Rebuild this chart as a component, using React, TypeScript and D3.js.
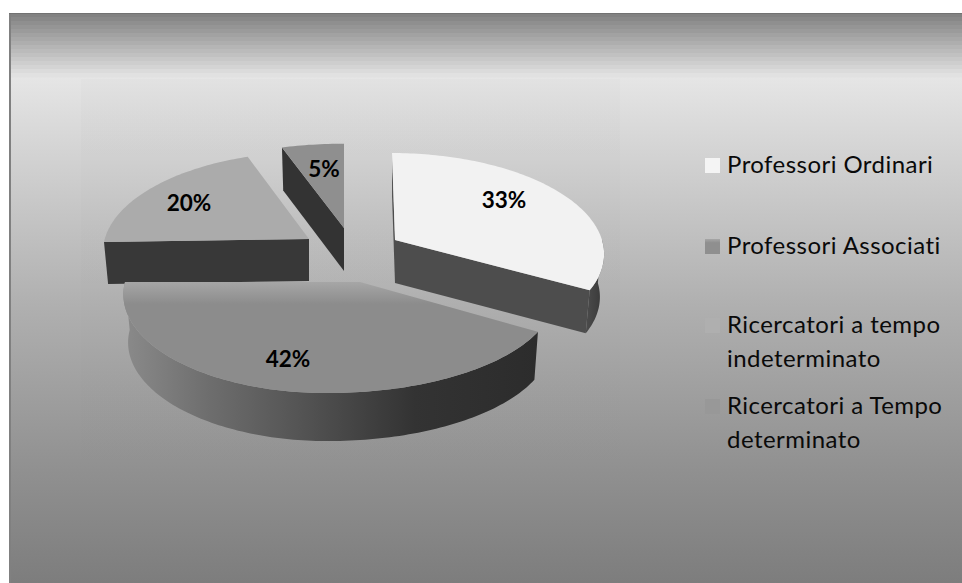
import React from "react";
import * as d3 from "d3";

// Staff composition shares, in clockwise order from twelve o'clock.
const categories = [
  "Professori Ordinari",
  "Professori Associati",
  "Ricercatori a tempo indeterminato",
  "Ricercatori a Tempo determinato",
];
const shares = [33, 42, 20, 5];

const topFills = ["#f2f2f2", "url(#faceAssociati)", "#ababab", "#8f8f8f"];
const cutFills = ["#4d4d4d", "#2e2e2e", "#383838", "#333333"];
const rimFills = ["url(#rimOrdinari)", "url(#rimAssociati)", "#383838", "#333333"];

const legendLines = [
  ["Professori Ordinari"],
  ["Professori Associati"],
  ["Ricercatori a tempo", "indeterminato"],
  ["Ricercatori a Tempo", "determinato"],
];
const swatchFills = ["#f4f4f4", "url(#swatchAssociati)", "#afafaf", "#989898"];
const legendBaselines = [173, 254, 333, 414];

const W = 962;
const H = 583;
const FONT = "Lato, Carlito, Calibri, sans-serif";

// Foreshortening: the front of the disc is nearer the viewer than the back.
const PERSPECTIVE = 0.127;
const WALL_TAPER = 0.98;

// Each exploded slice has its own pivot, disc shift and projected radii.
type Frame = {
  ax: number; ay: number; shift: number; rxL: number; rxR: number; ry: number;
  skew: number; roll: number; depth: number; lx: number; ly: number;
};
const frames: Frame[] = [
  { ax: 395, ay: 240, shift: 0, rxL: 207, rxR: 207, ry: 98, skew: 3, roll: 0, depth: 43, lx: 109, ly: -40 },
  { ax: 360, ay: 282, shift: -33, rxL: 202, rxR: 226, ry: 97, skew: 0, roll: 0, depth: 48, lx: -72, ly: 77 },
  { ax: 309, ay: 239, shift: 0, rxL: 205, rxR: 205, ry: 98, skew: 5, roll: -3, depth: 42, lx: -120, ly: -36 },
  { ax: 344, ay: 228, shift: 0, rxL: 225, rxR: 225, ry: 95, skew: 0, roll: 0, depth: 43, lx: -20, ly: -59 },
];

type Pt = [number, number];

const project = (f: Frame, theta: number): Pt => {
  const X = Math.sin(theta);
  const Y = -Math.cos(theta);
  const s = 1 / (1 - PERSPECTIVE * Y);
  return [
    f.ax + f.shift + (X < 0 ? f.rxL : f.rxR) * X * s + f.skew * Y,
    f.ay + f.ry * Y * s + f.roll * X,
  ];
};
const lowered = (f: Frame, p: Pt): Pt => [f.ax + (p[0] - f.ax) * WALL_TAPER, p[1] + f.depth];

const sweep = (a: number, b: number) => {
  const n = Math.max(2, Math.ceil((b - a) / 0.02));
  return d3.range(n + 1).map((i) => a + ((b - a) * i) / n);
};
const polygon = d3.line().curve(d3.curveLinearClosed);

// A radial cut shows only when the extrusion falls on the far side of it from the top face.
const cutShows = (apex: Pt, edge: Pt, inner: Pt) => {
  const ex = edge[0] - apex[0];
  const ey = edge[1] - apex[1];
  const towardInner = ex * (inner[1] - apex[1]) - ey * (inner[0] - apex[0]);
  return ex * towardInner < 0;
};

const pieAngles = d3.pie<number>().sort(null).value((d) => d)(shares);

// Stepped header band across the top of the chart area.
const headerBands = d3.range(13, 75, 4);
const headerShade = d3.scaleLinear<string>().domain([13, 75]).range(["#828282", "#e4e4e4"]);

export default function App() {
  return (
    <svg width={W} height={H} viewBox={`0 0 ${W} ${H}`}
      style={{ position: "absolute", left: 0, top: 0, display: "block" }}>
      <defs>
        <linearGradient id="chartBg" gradientUnits="userSpaceOnUse" x1="0" y1="75" x2="0" y2="583">
          <stop offset="0" stopColor="#e6e6e6" />
          <stop offset="0.13" stopColor="#d6d6d6" />
          <stop offset="0.45" stopColor="#b0b0b0" />
          <stop offset="0.78" stopColor="#909090" />
          <stop offset="1" stopColor="#7d7d7d" />
        </linearGradient>
        <linearGradient id="plotShade" x1="0" y1="0" x2="0" y2="1">
          <stop offset="0" stopColor="#000" stopOpacity="0.014" />
          <stop offset="1" stopColor="#000" stopOpacity="0" />
        </linearGradient>
        <linearGradient id="faceAssociati" gradientUnits="userSpaceOnUse" x1="0" y1="278" x2="0" y2="304">
          <stop offset="0" stopColor="#ababab" />
          <stop offset="1" stopColor="#8c8c8c" />
        </linearGradient>
        <linearGradient id="rimAssociati" gradientUnits="userSpaceOnUse" x1="125" y1="0" x2="538" y2="0">
          <stop offset="0" stopColor="#8a8a8a" />
          <stop offset="0.2" stopColor="#6e6e6e" />
          <stop offset="0.45" stopColor="#515151" />
          <stop offset="0.7" stopColor="#333333" />
          <stop offset="1" stopColor="#2c2c2c" />
        </linearGradient>
        <linearGradient id="rimOrdinari" gradientUnits="userSpaceOnUse" x1="585" y1="0" x2="603" y2="0">
          <stop offset="0" stopColor="#4d4d4d" />
          <stop offset="1" stopColor="#383838" />
        </linearGradient>
        <linearGradient id="swatchAssociati" x1="0" y1="0" x2="0" y2="1">
          <stop offset="0" stopColor="#a6a6a6" />
          <stop offset="0.25" stopColor="#8f8f8f" />
          <stop offset="1" stopColor="#8f8f8f" />
        </linearGradient>
      </defs>

      <rect x={9} y={75} width={W - 9} height={H - 75} fill="url(#chartBg)" />
      {headerBands.map((y) => (
        <rect key={y} x={9} y={y} width={W - 9} height={4.5} fill={headerShade(y)} />
      ))}
      <rect x={81} y={79} width={539} height={H - 79} fill="url(#plotShade)" />
      <rect x={9} y={13} width={2} height={H - 13} fill="#808080" />
      <rect x={9} y={13} width={W - 9} height={1} fill="#000" opacity={0.12} />

      {[2, 3, 0, 1].map((i) => {
        const arc = pieAngles[i];
        const f = frames[i];
        const rim = sweep(arc.startAngle, arc.endAngle).map((t) => project(f, t));
        const apex: Pt = [f.ax, f.ay];
        const inner = project(f, (arc.startAngle + arc.endAngle) / 2);
        const wallFrom = Math.max(arc.startAngle, Math.PI / 2);
        const wallTo = Math.min(arc.endAngle, Math.PI * 1.5);
        const wallTop = wallTo > wallFrom ? sweep(wallFrom, wallTo).map((t) => project(f, t)) : [];
        const wall = [...wallTop, ...wallTop.map((p) => lowered(f, p)).reverse()];
        const cuts = [rim[0], rim[rim.length - 1]].filter((p) => cutShows(apex, p, inner));
        return (
          <g key={categories[i]}>
            {wall.length > 0 && <path d={polygon(wall as Pt[]) ?? ""} fill={rimFills[i]} />}
            {cuts.map((p, c) => (
              <path key={c} d={polygon([p, apex, lowered(f, apex), lowered(f, p)]) ?? ""} fill={cutFills[i]} />
            ))}
            <path d={polygon([apex, ...rim]) ?? ""} fill={topFills[i]} />
          </g>
        );
      })}

      {shares.map((v, i) => (
        <text key={i} x={frames[i].ax + frames[i].lx} y={frames[i].ay + frames[i].ly}
          dy="0.35em" textAnchor="middle" fontFamily={FONT} fontWeight={700} fontSize={22.5} fill="#000">
          {v}%
        </text>
      ))}

      {legendLines.map((lines, i) => (
        <g key={i}>
          <rect x={705} y={legendBaselines[i] - 15} width={15} height={15} fill={swatchFills[i]} />
          {lines.map((line, j) => (
            <text key={line} x={727} y={legendBaselines[i] + j * 33.5} fontFamily={FONT} fontSize={24}
              letterSpacing={0.45} style={{ fontVariantLigatures: "none" }} fill="#0a0a0a">
              {line}
            </text>
          ))}
        </g>
      ))}
    </svg>
  );
}
